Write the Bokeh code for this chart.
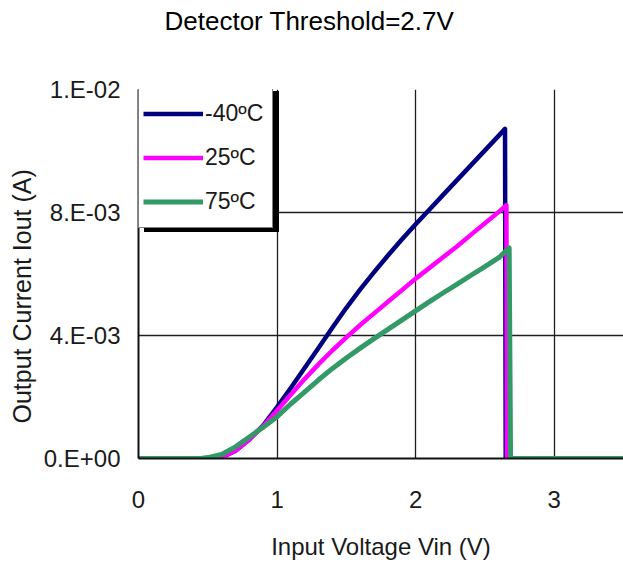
import numpy as np
from bokeh.plotting import figure
from bokeh.models import (Legend, LegendItem, FixedTicker, Grid, Title, Range1d,
                          CustomJSTickFormatter)
from bokeh.embed import file_html
from bokeh.resources import INLINE

# Output current (mA) vs input voltage (V) for three temperatures
vin_m40 = [0.0, 0.5, 0.55, 0.6, 0.7, 0.8, 0.9, 1.0, 1.1, 1.2, 1.3, 1.4, 1.5, 1.6, 1.7, 1.8, 1.9,
           2.0, 2.1, 2.2, 2.3, 2.4, 2.5, 2.6, 2.645, 2.65, 3.5]
iout_m40_ma = [0.0, 0.0, 0.0, 0.03, 0.25, 0.62, 1.08, 1.67, 2.3, 2.95, 3.6, 4.26, 4.9, 5.5, 6.06,
               6.6, 7.12, 7.62, 8.1, 8.58, 9.06, 9.54, 10.02, 10.5, 10.72, 0.0, 0.0]

vin_25 = [0.0, 0.5, 0.55, 0.6, 0.7, 0.8, 0.9, 1.0, 1.1, 1.2, 1.3, 1.4, 1.5, 1.6, 1.7, 1.8, 1.9,
          2.0, 2.1, 2.2, 2.3, 2.4, 2.5, 2.6, 2.655, 2.66, 3.5]
iout_25_ma = [0.0, 0.0, 0.0, 0.03, 0.25, 0.62, 1.06, 1.56, 2.08, 2.59, 3.07, 3.52, 3.94, 4.34, 4.72,
              5.1, 5.47, 5.85, 6.2, 6.55, 6.9, 7.28, 7.65, 8.02, 8.24, 0.0, 0.0]

vin_75 = [0.0, 0.45, 0.5, 0.6, 0.7, 0.8, 0.9, 1.0, 1.1, 1.2, 1.3, 1.4, 1.5, 1.6, 1.7, 1.8, 1.9,
          2.0, 2.1, 2.2, 2.3, 2.4, 2.5, 2.6, 2.675, 2.685, 3.5]
iout_75_ma = [0.0, 0.0, 0.03, 0.13, 0.38, 0.7, 1.02, 1.36, 1.78, 2.17, 2.56, 2.93, 3.27, 3.59, 3.9,
              4.2, 4.5, 4.8, 5.1, 5.39, 5.67, 5.96, 6.24, 6.53, 6.85, 0.0, 0.0]

series_labels = ["-40ºC", "25ºC", "75ºC"]
series_colors = ["#000080", "#FF00FF", "#339966"]

x_ticks = [0, 1, 2, 3]
y_ticks = [0.0, 0.004, 0.008, 0.012]

FONT = "Liberation Sans"

p = figure(width=623, height=568, output_backend="svg", toolbar_location=None,
           x_range=Range1d(0, 3.5), y_range=Range1d(0, 0.012),
           min_border_left=138, min_border_right=0, min_border_top=89,
           min_border_bottom=110, title="Detector Threshold=2.7V")
p.background_fill_color = "white"
p.border_fill_color = "white"
p.outline_line_color = None

# empty spacer between the frame and the chart title
p.add_layout(Title(text=" ", text_font_size="1px", standoff=50), "above")

p.title.align = "left"
p.title.offset = 26
p.title.standoff = 2
p.title.text_font = FONT
p.title.text_font_size = "26px"
p.title.text_font_style = "normal"
p.title.text_color = "black"

# grid
p.xgrid.ticker = FixedTicker(ticks=[1, 2, 3])
p.ygrid.ticker = FixedTicker(ticks=[0.004, 0.008])
for g in (p.xgrid, p.ygrid):
    g.grid_line_color = "#1e1e1e"
    g.grid_line_width = 1.3
top_edge = Grid(dimension=1, ticker=FixedTicker(ticks=[0.012]),
                grid_line_color="#9a9a9a", grid_line_width=2.5)
p.add_layout(top_edge)

# axes
for ax in (p.xaxis, p.yaxis):
    ax.axis_line_color = "#111111"
    ax.axis_line_width = 2
    ax.major_tick_line_color = None
    ax.minor_tick_line_color = None
    ax.major_tick_out = 0
    ax.major_tick_in = 0
    ax.major_label_text_font = FONT
    ax.major_label_text_font_size = "24px"
    ax.major_label_text_color = "#1a1a1a"

p.xaxis.ticker = FixedTicker(ticks=x_ticks)
p.xaxis.major_label_standoff = 32
p.xaxis.axis_label = "Input Voltage Vin (V)"
p.xaxis.axis_label_text_font = FONT
p.xaxis.axis_label_text_font_size = "24px"
p.xaxis.axis_label_text_font_style = "normal"
p.xaxis.axis_label_text_color = "#1a1a1a"
p.xaxis.axis_label_standoff = 22

p.yaxis.ticker = FixedTicker(ticks=y_ticks)
p.yaxis.major_label_standoff = 18
p.yaxis.formatter = CustomJSTickFormatter(code="""
    if (tick == 0) return "0.E+00";
    const e = Math.floor(Math.log10(Math.abs(tick)) + 1e-9);
    const m = Math.round(tick / Math.pow(10, e));
    const s = e < 0 ? "-" : "+";
    const d = Math.abs(e);
    return m + ".E" + s + (d < 10 ? "0" + d : "" + d);
""")

# vertical axis title
p.add_layout(Title(text="Output Current Iout (A)", align="left", offset=35,
                   standoff=10, text_font=FONT, text_font_size="25px",
                   text_font_style="normal", text_color="#1a1a1a"), "left")

renderers = []
for vin, ima, color, lw in ((vin_m40, iout_m40_ma, series_colors[0], 4.5),
                            (vin_25, iout_25_ma, series_colors[1], 4.5),
                            (vin_75, iout_75_ma, series_colors[2], 5)):
    iout = np.array(ima) * 1e-3
    r = p.line(vin, iout, line_color=color, line_width=lw, line_join="round")
    renderers.append(r)

legend_style = dict(padding=4, spacing=1, margin=0, glyph_width=60, glyph_height=43,
                    label_height=43, label_width=63, label_standoff=2,
                    label_text_font=FONT, label_text_font_size="23px",
                    label_text_color="#1a1a1a", border_line_color="black",
                    border_line_width=1.5)

# drop shadow behind the legend box
shadow = Legend(items=[LegendItem(label=" ", renderers=[r]) for r in renderers],
                location=(6, 226), background_fill_color="black", background_fill_alpha=1,
                **legend_style)
legend = Legend(items=[LegendItem(label=l, renderers=[r]) for l, r in zip(series_labels, renderers)],
                location=(0, 230), background_fill_color="white", background_fill_alpha=1,
                **legend_style)
p.add_layout(shadow)
p.add_layout(legend)

open("out.html", "w").write(file_html(p, INLINE))
